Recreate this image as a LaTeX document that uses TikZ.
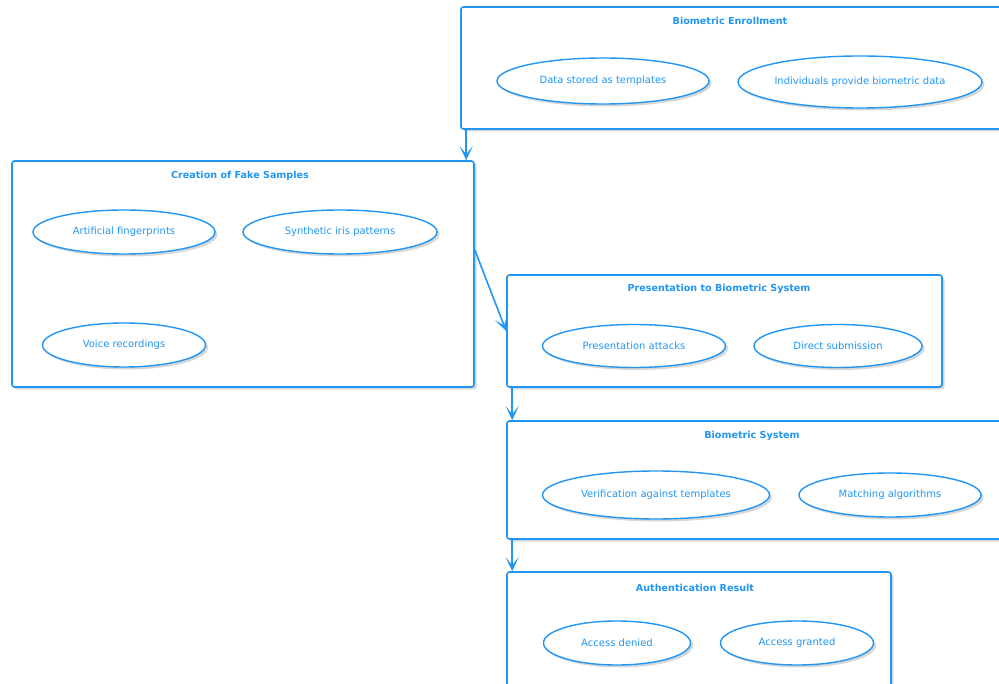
\documentclass[tikz,border=0pt]{standalone}
\usepackage{fontspec}
\setmainfont{DejaVu Sans}
\usetikzlibrary{shapes.geometric,arrows.meta,positioning,calc,shadows}
\definecolor{umlblue}{RGB}{33, 150, 243}
\definecolor{shadowgray}{RGB}{215, 215, 215}

\tikzset{
    pkg/.style={draw=umlblue, line width=1.6pt, rounded corners=2.5pt, fill=white,
        drop shadow={shadow xshift=2.5pt, shadow yshift=-2.5pt, fill=shadowgray, opacity=1}},
    pkgtitle/.style={text=umlblue, font=\bfseries\fontsize{9.6}{11}\selectfont},
    usecase/.style={ellipse, draw=umlblue, line width=1.4pt, fill=white, inner sep=0pt,
        text=umlblue, font=\fontsize{10}{12}\selectfont,
        drop shadow={shadow xshift=2.5pt, shadow yshift=-2.5pt, fill=shadowgray, opacity=1}},
    flow/.style={draw=umlblue, line width=1.6pt, -{Stealth[length=14pt, width=13pt, inset=8pt]}}
}

\begin{document}
\begin{tikzpicture}[x=1pt, y=-1pt]
    \useasboundingbox (0,0) rectangle (999,684);
    \clip (0,0) rectangle (999,684);

    % packages
    \node[pkg, minimum width=545pt, minimum height=122pt] (enroll) at (733.5,68) {};
    \node[pkg, minimum width=462pt, minimum height=226pt] (fake) at (243,274) {};
    \node[pkg, minimum width=435pt, minimum height=112pt] (present) at (724.5,331) {};
    \node[pkg, minimum width=500pt, minimum height=118pt] (biosys) at (757,480) {};
    \node[pkg, minimum width=384pt, minimum height=120pt] (result) at (699,632) {};

    % package titles
    \node[pkgtitle] (enrolltitle) at (730,21) {Biometric Enrollment};
    \node[pkgtitle] (faketitle) at (240,176) {Creation of Fake Samples};
    \node[pkgtitle] (presenttitle) at (719,289) {Presentation to Biometric System};
    \node[pkgtitle] (biosystitle) at (752,436) {Biometric System};
    \node[pkgtitle] (resulttitle) at (695,588) {Authentication Result};

    % use cases
    \node[usecase, minimum width=212pt, minimum height=46pt] (stored) at (603,81) {Data stored as templates};
    \node[usecase, minimum width=244pt, minimum height=52pt] (provide) at (860,82) {Individuals provide biometric data};
    \node[usecase, minimum width=182pt, minimum height=44pt] (finger) at (124,232) {Artificial fingerprints};
    \node[usecase, minimum width=194pt, minimum height=44pt] (iris) at (340,232) {Synthetic iris patterns};
    \node[usecase, minimum width=163pt, minimum height=44pt] (voice) at (124,345) {Voice recordings};
    \node[usecase, minimum width=183pt, minimum height=43pt] (attacks) at (634,346) {Presentation attacks};
    \node[usecase, minimum width=168pt, minimum height=43pt] (direct) at (838,346) {Direct submission};
    \node[usecase, minimum width=227pt, minimum height=48pt] (verify) at (656,495) {Verification against templates};
    \node[usecase, minimum width=182pt, minimum height=44pt] (match) at (890,495) {Matching algorithms};
    \node[usecase, minimum width=147pt, minimum height=44pt] (denied) at (617,643) {Access denied};
    \node[usecase, minimum width=153pt, minimum height=44pt] (granted) at (797,643) {Access granted};

    % flows
    \draw[flow] ([xshift=6pt]enroll.south west) -- ([xshift=6pt]enroll.south west |- fake.north);
    \draw[flow] ([yshift=24pt]fake.east) -- (present.west);
    \draw[flow] ([xshift=6pt]present.south west) -- ([xshift=6pt]present.south west |- biosys.north);
    \draw[flow] ([xshift=6pt]biosys.south west) -- ([xshift=6pt]biosys.south west |- result.north);
\end{tikzpicture}
\end{document}
